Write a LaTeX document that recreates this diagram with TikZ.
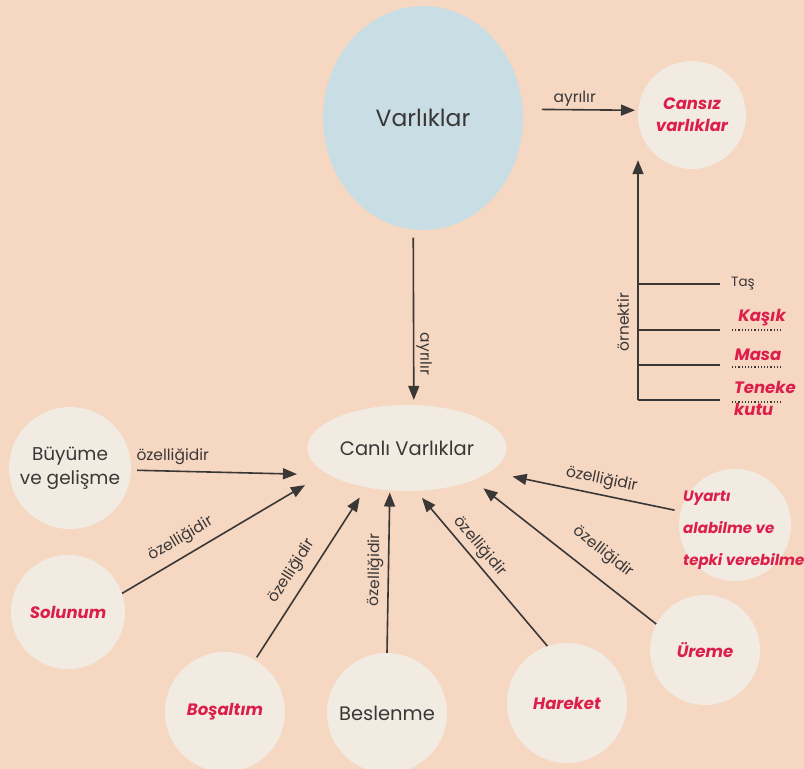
\documentclass[tikz,border=0pt]{standalone}
\usepackage{fontspec}
\setmainfont{Poppins}
\usetikzlibrary{arrows.meta,shapes.geometric}
\definecolor{peach}{RGB}{246,215,194}
\definecolor{cream}{RGB}{241,235,226}
\definecolor{paleblue}{RGB}{201,222,228}
\definecolor{pinkred}{RGB}{220,30,74}
\definecolor{ink}{RGB}{58,55,55}
\begin{document}
\begin{tikzpicture}[
        x = 1pt, y = -1pt,
        bubble/.style  = {circle, fill=cream, inner sep=0pt, align=center, text=ink,
                          font=\fontsize{18.5}{24}\selectfont},
        redword/.style = {text=pinkred, font=\fontsize{16.5}{22}\selectfont\bfseries\itshape},
        tag/.style     = {text=ink, font=\fontsize{15.5}{17}\selectfont, inner sep=2pt},
        arr/.style     = {draw=ink, line width=1.6pt, -{Triangle[length=14pt,width=11pt]}},
        plain/.style   = {draw=ink, line width=1.6pt},
        dots/.style    = {draw=ink, dotted, line width=1.2pt},
      ]
    \fill[peach] (0,0) rectangle (804,769);
    \clip (0,0) rectangle (804,769);

    % main concepts
    \node[ellipse, fill=paleblue, minimum width=200pt, minimum height=224pt, text=ink,
          font=\fontsize{23.5}{26}\selectfont] (varlik) at (423,118) {Varlıklar};
    \node[bubble, minimum size=108pt, redword] (cansiz) at (692,115) {Cansız\\varlıklar};
    \node[ellipse, fill=cream, minimum width=180pt, minimum height=86pt, text=ink,
          font=\fontsize{19.5}{22}\selectfont] (canli) at (407,448) {Canlı Varlıklar};

    % properties
    \node[bubble, minimum size=122pt] (buyume) at (70,468) {Büyüme\\ve gelişme};
    \node[bubble, minimum size=114pt, redword] (solunum) at (68,612) {Solunum};
    \node[bubble, minimum size=120pt, redword] (bosaltim) at (225,712) {Boşaltım};
    \node[bubble, minimum size=120pt, font=\fontsize{19.5}{24}\selectfont] (beslenme) at (387,713) {Beslenme};
    \node[bubble, minimum size=120pt, redword] (hareket) at (567,703) {Hareket};
    \node[bubble, minimum size=110pt, redword] (ureme) at (705,650) {Üreme};
    \node[bubble, minimum size=112pt] (uyarti) at (735,525) {};
    \node[redword, anchor=west, align=left, inner sep=0pt, font=\fontsize{15}{32}\selectfont\bfseries\itshape]
        (uyartitext) at (683,530) {Uyartı\\alabilme ve\\tepki verebilme};

    \draw[arr, shorten <=19pt, shorten >=3pt] (varlik.5) -- node[tag, pos=0.45, above] {ayrılır} (cansiz.175);
    \draw[arr, shorten <=8pt, shorten >=5pt] (varlik.265) -- node[tag, pos=0.71, rotate=-90, anchor=south] {ayrılır} (canli.81);

    \draw[arr, shorten <=6pt, shorten >=32pt] (buyume.358) -- node[tag, pos=0.21, above=4pt] {özelliğidir} (canli.199);
    \draw[arr, shorten >=24pt] (solunum.19) -- node[tag, pos=0.33, sloped, above=6pt] {özelliğidir} (canli.197);
    \draw[arr, shorten <=3pt, shorten >=12pt] (bosaltim.60) -- node[tag, pos=0.46, sloped, above=6pt] {özelliğidir} (canli.224);
    \draw[arr, shorten >=2pt] (beslenme.north) -- node[tag, pos=0.51, sloped, above=2pt] {özelliğidir} (canli.248);
    \draw[arr, shorten >=9pt] (hareket.109) -- node[tag, pos=0.59, sloped, above=2pt] {özelliğidir} (canli.282);
    \draw[arr, shorten >=13pt] (ureme.152) -- node[tag, pos=0.37, sloped, above=13pt] {özelliğidir} (canli.334);
    \draw[arr, shorten <=6pt, shorten >=23pt] (uyarti.166) -- node[tag, pos=0.43, sloped, above=4pt] {özelliğidir} (canli.344);

    % examples of lifeless things
    \coordinate (ornek) at (638,400);
    \draw[arr] (ornek) -- ([yshift=9pt]ornek |- cansiz.south);
    \node[tag, rotate=90] (ornektag) at (623,322) {örnektir};
    \foreach \yy/\nm in {284/tas, 330/kasik, 365/masa, 400/teneke}{
        \coordinate (\nm) at (720,\yy);
        \draw[plain] (\nm -| ornek) -- (\nm);
    }
    \node[tag, anchor=west, font=\fontsize{13.5}{15}\selectfont] (tasword) at ([xshift=9pt]tas) {Taş};
    \node[redword] (kasikword) at ([xshift=42pt, yshift=12pt]kasik) {Kaşık};
    \node[redword] (masaword) at ([xshift=38pt, yshift=10pt]masa) {Masa};
    \node[redword, anchor=west, align=left, inner sep=0pt] (tenekeword) at ([xshift=14pt, yshift=2pt]teneke) {Teneke\\kutu};
    \draw[dots] ([xshift=12pt]kasik) -- ([xshift=63pt]kasik);
    \draw[dots] ([xshift=12pt, yshift=-2pt]masa) -- ([xshift=63pt, yshift=-2pt]masa);
    \draw[dots] ([xshift=12pt, yshift=-2pt]teneke) -- ([xshift=63pt, yshift=-2pt]teneke);
\end{tikzpicture}
\end{document}
